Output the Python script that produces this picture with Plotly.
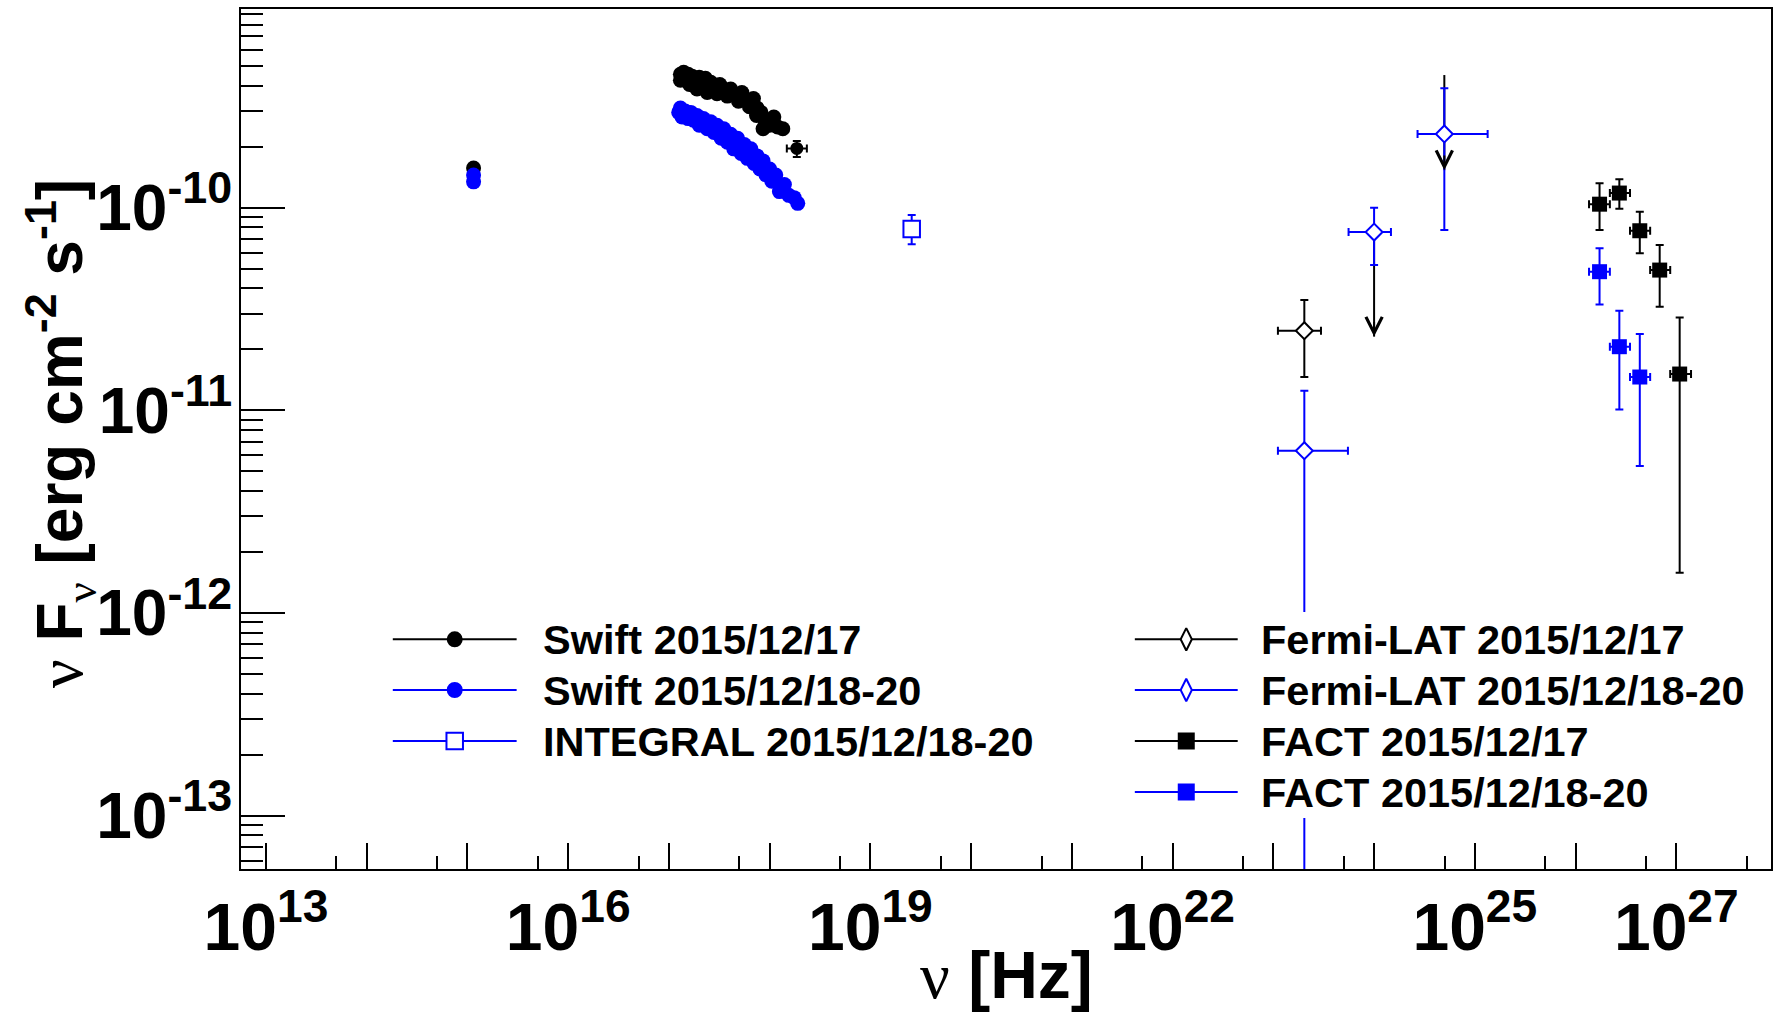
import math
import numpy as np
import plotly.graph_objects as go

# ---------------- data ----------------
# Swift 2015/12/17 (black): UVOT + XRT
swift17_opt_nu = [1.15e15]
swift17_opt_f = [1.57e-10]
swift17_xrt_nu = [1.3e17, 1.3e17, 1.4e17, 1.45e17, 1.55e17, 1.6e17, 1.7e17, 1.8e17, 1.9e17, 2.0e17,
                  2.15e17, 2.3e17, 2.4e17, 2.6e17, 2.8e17, 3.0e17, 3.2e17, 3.5e17, 3.8e17, 4.1e17,
                  4.5e17, 4.9e17, 5.3e17, 5.8e17, 6.3e17, 6.9e17, 7.5e17, 7.4e17, 8.2e17, 9.0e17,
                  8.6e17, 1.0e18, 1.1e18, 1.2e18, 1.35e18]
swift17_xrt_f = [4.55e-10, 4.25e-10, 4.65e-10, 4.35e-10, 4.55e-10, 4.05e-10, 4.45e-10, 4.20e-10, 3.85e-10, 4.40e-10,
                 4.05e-10, 4.35e-10, 3.70e-10, 4.15e-10, 3.95e-10, 3.65e-10, 4.05e-10, 3.80e-10, 3.55e-10, 3.85e-10,
                 3.60e-10, 3.35e-10, 3.70e-10, 3.40e-10, 3.15e-10, 3.45e-10, 3.10e-10, 2.85e-10, 2.95e-10, 2.70e-10,
                 2.45e-10, 2.55e-10, 2.80e-10, 2.50e-10, 2.45e-10]
swift17_hard_nu = [1.86e18]
swift17_hard_nu_lo = [1.48e18]
swift17_hard_nu_hi = [2.34e18]
swift17_hard_f = [1.96e-10]
swift17_hard_f_lo = [1.78e-10]
swift17_hard_f_hi = [2.13e-10]

# Swift 2015/12/18-20 (blue)
swift18_opt_nu = [1.15e15, 1.15e15]
swift18_opt_f = [1.45e-10, 1.34e-10]
swift18_xrt_nu = [1.25e17, 1.3e17, 1.35e17, 1.45e17, 1.55e17, 1.65e17, 1.75e17, 1.9e17, 2.0e17, 2.2e17,
                  2.4e17, 2.6e17, 2.8e17, 3.0e17, 3.3e17, 3.5e17, 3.8e17, 4.1e17, 4.4e17, 4.8e17,
                  5.2e17, 5.6e17, 6.0e17, 6.5e17, 7.0e17, 7.5e17, 8.0e17, 8.6e17, 9.2e17, 1.0e18,
                  1.05e18, 1.15e18, 1.25e18, 1.4e18, 1.55e18, 1.75e18, 1.9e18]
swift18_xrt_f = [2.95e-10, 3.10e-10, 2.80e-10, 3.00e-10, 2.75e-10, 2.95e-10, 2.70e-10, 2.85e-10, 2.55e-10, 2.75e-10,
                 2.45e-10, 2.65e-10, 2.35e-10, 2.55e-10, 2.20e-10, 2.45e-10, 2.10e-10, 2.30e-10, 1.95e-10, 2.20e-10,
                 1.85e-10, 2.05e-10, 1.75e-10, 1.95e-10, 1.65e-10, 1.80e-10, 1.55e-10, 1.70e-10, 1.45e-10, 1.55e-10,
                 1.35e-10, 1.45e-10, 1.20e-10, 1.30e-10, 1.15e-10, 1.12e-10, 1.05e-10]

# INTEGRAL 2015/12/18-20 (blue open square)
integral_nu = [2.57e19]
integral_f = [7.84e-11]
integral_f_lo = [6.6e-11]
integral_f_hi = [9.2e-11]

# Fermi-LAT 2015/12/17 (black)
fermi17_nu = [2.03e23]
fermi17_nu_lo = [1.11e23]
fermi17_nu_hi = [2.97e23]
fermi17_f = [2.47e-11]
fermi17_f_lo = [1.46e-11]
fermi17_f_hi = [3.5e-11]
fermi17_ul_nu = [1.0e24, 4.98e24]
fermi17_ul_f = [7.0e-11, 4.51e-10]
fermi17_ul_tip = [2.31e-11, 1.53e-10]

# Fermi-LAT 2015/12/18-20 (blue)
fermi18_nu = [2.03e23, 1.0e24, 4.98e24]
fermi18_nu_lo = [1.11e23, 5.58e23, 2.7e24]
fermi18_nu_hi = [5.5e23, 1.47e24, 1.34e25]
fermi18_f = [6.32e-12, 7.58e-11, 2.31e-10]
fermi18_f_lo = [1.0e-14, 5.21e-11, 7.75e-11]
fermi18_f_hi = [1.25e-11, 1.0e-10, 3.88e-10]

# FACT 2015/12/17 (black)
fact17_nu = [1.73e26, 2.72e26, 4.34e26, 6.84e26, 1.08e27]
fact17_nu_lo = [1.36e26, 2.19e26, 3.47e26, 5.5e26, 8.7e26]
fact17_nu_hi = [2.19e26, 3.47e26, 5.5e26, 8.7e26, 1.40e27]
fact17_f = [1.04e-10, 1.18e-10, 7.69e-11, 4.92e-11, 1.51e-11]
fact17_f_lo = [7.75e-11, 9.88e-11, 5.95e-11, 3.24e-11, 1.58e-12]
fact17_f_hi = [1.32e-10, 1.38e-10, 9.54e-11, 6.54e-11, 2.87e-11]

# FACT 2015/12/18-20 (blue)
fact18_nu = [1.73e26, 2.72e26, 4.34e26]
fact18_nu_lo = [1.36e26, 2.19e26, 3.47e26]
fact18_nu_hi = [2.19e26, 3.47e26, 5.5e26]
fact18_f = [4.83e-11, 2.06e-11, 1.46e-11]
fact18_f_lo = [3.33e-11, 1.01e-11, 5.31e-12]
fact18_f_hi = [6.3e-11, 3.1e-11, 2.38e-11]

legend_left = ["Swift 2015/12/17", "Swift 2015/12/18-20", "INTEGRAL 2015/12/18-20"]
legend_right = ["Fermi-LAT 2015/12/17", "Fermi-LAT 2015/12/18-20", "FACT 2015/12/17", "FACT 2015/12/18-20"]

x_major = [10.0 ** n for n in range(13, 28)]
x_labels = ["10<sup>%d</sup>" % n if n in (13, 16, 19, 22, 25, 27) else "" for n in range(13, 28)]
x_minor = [5 * 10.0 ** n for n in range(13, 28)]
y_major = [1e-13, 1e-12, 1e-11, 1e-10]
y_labels = ["10<sup>-13</sup>", "10<sup>-12</sup>", "10<sup>-11</sup>", "10<sup>-10</sup>"]
y_minor = [m * 10.0 ** e for e in range(-14, -9) for m in range(2, 10)]

BLACK = "#000000"
BLUE = "#0000ff"
FONT = "Liberation Sans"


def ebar(v, lo, hi, color):
    v, lo, hi = np.array(v), np.array(lo), np.array(hi)
    return dict(type="data", symmetric=False, array=list(hi - v), arrayminus=list(v - lo),
                color=color, thickness=2, width=4)


fig = go.Figure()
MS = 15
# Swift black
fig.add_trace(go.Scatter(x=swift17_opt_nu, y=swift17_opt_f, mode="markers",
                         marker=dict(symbol="circle", size=MS, color=BLACK)))
fig.add_trace(go.Scatter(x=swift17_xrt_nu, y=swift17_xrt_f, mode="markers",
                         marker=dict(symbol="circle", size=MS, color=BLACK)))
fig.add_trace(go.Scatter(x=swift17_hard_nu, y=swift17_hard_f, mode="markers",
                         marker=dict(symbol="circle", size=13, color=BLACK),
                         error_x=ebar(swift17_hard_nu, swift17_hard_nu_lo, swift17_hard_nu_hi, BLACK),
                         error_y=ebar(swift17_hard_f, swift17_hard_f_lo, swift17_hard_f_hi, BLACK)))
# Swift blue
fig.add_trace(go.Scatter(x=swift18_opt_nu, y=swift18_opt_f, mode="markers",
                         marker=dict(symbol="circle", size=MS, color=BLUE)))
fig.add_trace(go.Scatter(x=swift18_xrt_nu, y=swift18_xrt_f, mode="markers",
                         marker=dict(symbol="circle", size=MS, color=BLUE)))
# INTEGRAL
fig.add_trace(go.Scatter(x=integral_nu, y=integral_f, mode="markers",
                         marker=dict(symbol="square", size=16.5, color="white", line=dict(color=BLUE, width=2)),
                         error_y=ebar(integral_f, integral_f_lo, integral_f_hi, BLUE)))
# Fermi black upper-limit shafts
for nu, ul, tip in zip(fermi17_ul_nu, fermi17_ul_f, fermi17_ul_tip):
    fig.add_trace(go.Scatter(x=[nu, nu], y=[ul, tip], mode="lines", line=dict(color=BLACK, width=2)))
# Fermi black point
fig.add_trace(go.Scatter(x=fermi17_nu, y=fermi17_f, mode="markers",
                         marker=dict(symbol="diamond", size=13, color="white", line=dict(color=BLACK, width=2)),
                         error_x=ebar(fermi17_nu, fermi17_nu_lo, fermi17_nu_hi, BLACK),
                         error_y=ebar(fermi17_f, fermi17_f_lo, fermi17_f_hi, BLACK)))
# Fermi blue
fig.add_trace(go.Scatter(x=fermi18_nu, y=fermi18_f, mode="markers",
                         marker=dict(symbol="diamond", size=13, color="white", line=dict(color=BLUE, width=2)),
                         error_x=ebar(fermi18_nu, fermi18_nu_lo, fermi18_nu_hi, BLUE),
                         error_y=ebar(fermi18_f, fermi18_f_lo, fermi18_f_hi, BLUE)))
# FACT
fig.add_trace(go.Scatter(x=fact17_nu, y=fact17_f, mode="markers",
                         marker=dict(symbol="square", size=15, color=BLACK),
                         error_x=ebar(fact17_nu, fact17_nu_lo, fact17_nu_hi, BLACK),
                         error_y=ebar(fact17_f, fact17_f_lo, fact17_f_hi, BLACK)))
fig.add_trace(go.Scatter(x=fact18_nu, y=fact18_f, mode="markers",
                         marker=dict(symbol="square", size=15, color=BLUE),
                         error_x=ebar(fact18_nu, fact18_nu_lo, fact18_nu_hi, BLUE),
                         error_y=ebar(fact18_f, fact18_f_lo, fact18_f_hi, BLUE)))

annotations = []
# arrow heads of upper limits
for nu, tip in zip(fermi17_ul_nu, fermi17_ul_tip):
    annotations.append(dict(x=math.log10(nu), y=math.log10(tip), xref="x", yref="y",
                            ax=math.log10(nu), ay=math.log10(tip) + 0.08, axref="x", ayref="y",
                            text="", showarrow=True, arrowhead=5, arrowwidth=2, arrowsize=1.6,
                            arrowcolor=BLACK, standoff=0))

# ------------- legends (overlay pixel-like axes) -------------
L2 = dict(xaxis="x2", yaxis="y2", hoverinfo="skip")
# white legend box (right)
fig.add_trace(go.Scatter(x=[1100, 1770, 1770, 1100, 1100], y=[612, 612, 818, 818, 612], mode="lines",
                         fill="toself", fillcolor="white", line=dict(width=0, color="white"), **L2))
left_rows = [639.3, 690, 741]
right_rows = [639.3, 690, 741, 792]
left_styles = [
    dict(color=BLACK, symbol="circle", size=14, fill=BLACK),
    dict(color=BLUE, symbol="circle", size=14, fill=BLUE),
    dict(color=BLUE, symbol="square", size=16.5, fill="white"),
]
right_styles = [
    dict(color=BLACK, symbol="diamond-tall", size=16, fill="white"),
    dict(color=BLUE, symbol="diamond-tall", size=16, fill="white"),
    dict(color=BLACK, symbol="square", size=15, fill=BLACK),
    dict(color=BLUE, symbol="square", size=15, fill=BLUE),
]
for rows, styles, labels, x0, x1, xt in [(left_rows, left_styles, legend_left, 393, 517, 541),
                                         (right_rows, right_styles, legend_right, 1136, 1239, 1260)]:
    for yy, st, lab in zip(rows, styles, labels):
        fig.add_trace(go.Scatter(x=[x0, x1], y=[yy, yy], mode="lines",
                                 line=dict(color=st["color"], width=2), **L2))
        fig.add_trace(go.Scatter(x=[(x0 + x1) / 2], y=[yy], mode="markers",
                                 marker=dict(symbol=st["symbol"], size=st["size"], color=st["fill"],
                                             line=dict(color=st["color"], width=2)), **L2))
        annotations.append(dict(x=xt, y=yy, xref="x2", yref="y2", text=lab, showarrow=False,
                                xanchor="left", yanchor="middle",
                                font=dict(family=FONT, size=41.5, color=BLACK, weight="bold")))

NU = "<span style=\"font-family:'Liberation Serif';font-weight:normal\">ν</span>"
annotations.append(dict(x=0.5, y=-0.123, xref="paper", yref="paper", showarrow=False,
                        text=NU + " [Hz]", xanchor="center", yanchor="middle",
                        font=dict(family=FONT, size=66, color=BLACK, weight="bold")))
annotations.append(dict(x=-0.118, y=0.506, xref="paper", yref="paper", showarrow=False, textangle=-90,
                        text=NU + " F<sub>" + NU + "</sub> [erg cm<sup>-2</sup> s<sup>-1</sup>]",
                        xanchor="center", yanchor="middle",
                        font=dict(family=FONT, size=64, color=BLACK, weight="bold")))

fig.update_traces(showlegend=False)
fig.update_layout(
    width=1779, height=1016,
    margin=dict(l=241, r=6, t=9, b=147),
    paper_bgcolor="white", plot_bgcolor="white",
    showlegend=False,
    annotations=annotations,
    xaxis=dict(type="log", range=[12.752, 27.94], showgrid=False, zeroline=False,
               showline=True, mirror=True, linecolor=BLACK, linewidth=2,
               ticks="inside", ticklen=26, tickwidth=2, tickcolor=BLACK,
               tickmode="array", tickvals=x_major, ticktext=x_labels,
               tickfont=dict(family=FONT, size=66, color=BLACK, weight="bold"),
               ticklabelstandoff=0,
               minor=dict(ticks="inside", ticklen=13, tickwidth=2, tickcolor=BLACK,
                          tickmode="array", tickvals=x_minor, showgrid=False)),
    yaxis=dict(type="log", range=[-13.263, -9.02], showgrid=False, zeroline=False,
               showline=True, mirror=True, linecolor=BLACK, linewidth=2,
               ticks="inside", ticklen=44, tickwidth=2, tickcolor=BLACK,
               tickmode="array", tickvals=y_major, ticktext=y_labels,
               tickfont=dict(family=FONT, size=64, color=BLACK, weight="bold"),
               ticklabelstandoff=-6,
               minor=dict(ticks="inside", ticklen=22, tickwidth=2, tickcolor=BLACK,
                          tickmode="array", tickvals=y_minor, showgrid=False)),
    xaxis2=dict(overlaying="x", range=[241, 1773], visible=False, fixedrange=True),
    yaxis2=dict(overlaying="y", range=[869, 9], visible=False, fixedrange=True),
)

fig.write_html("out.html")
